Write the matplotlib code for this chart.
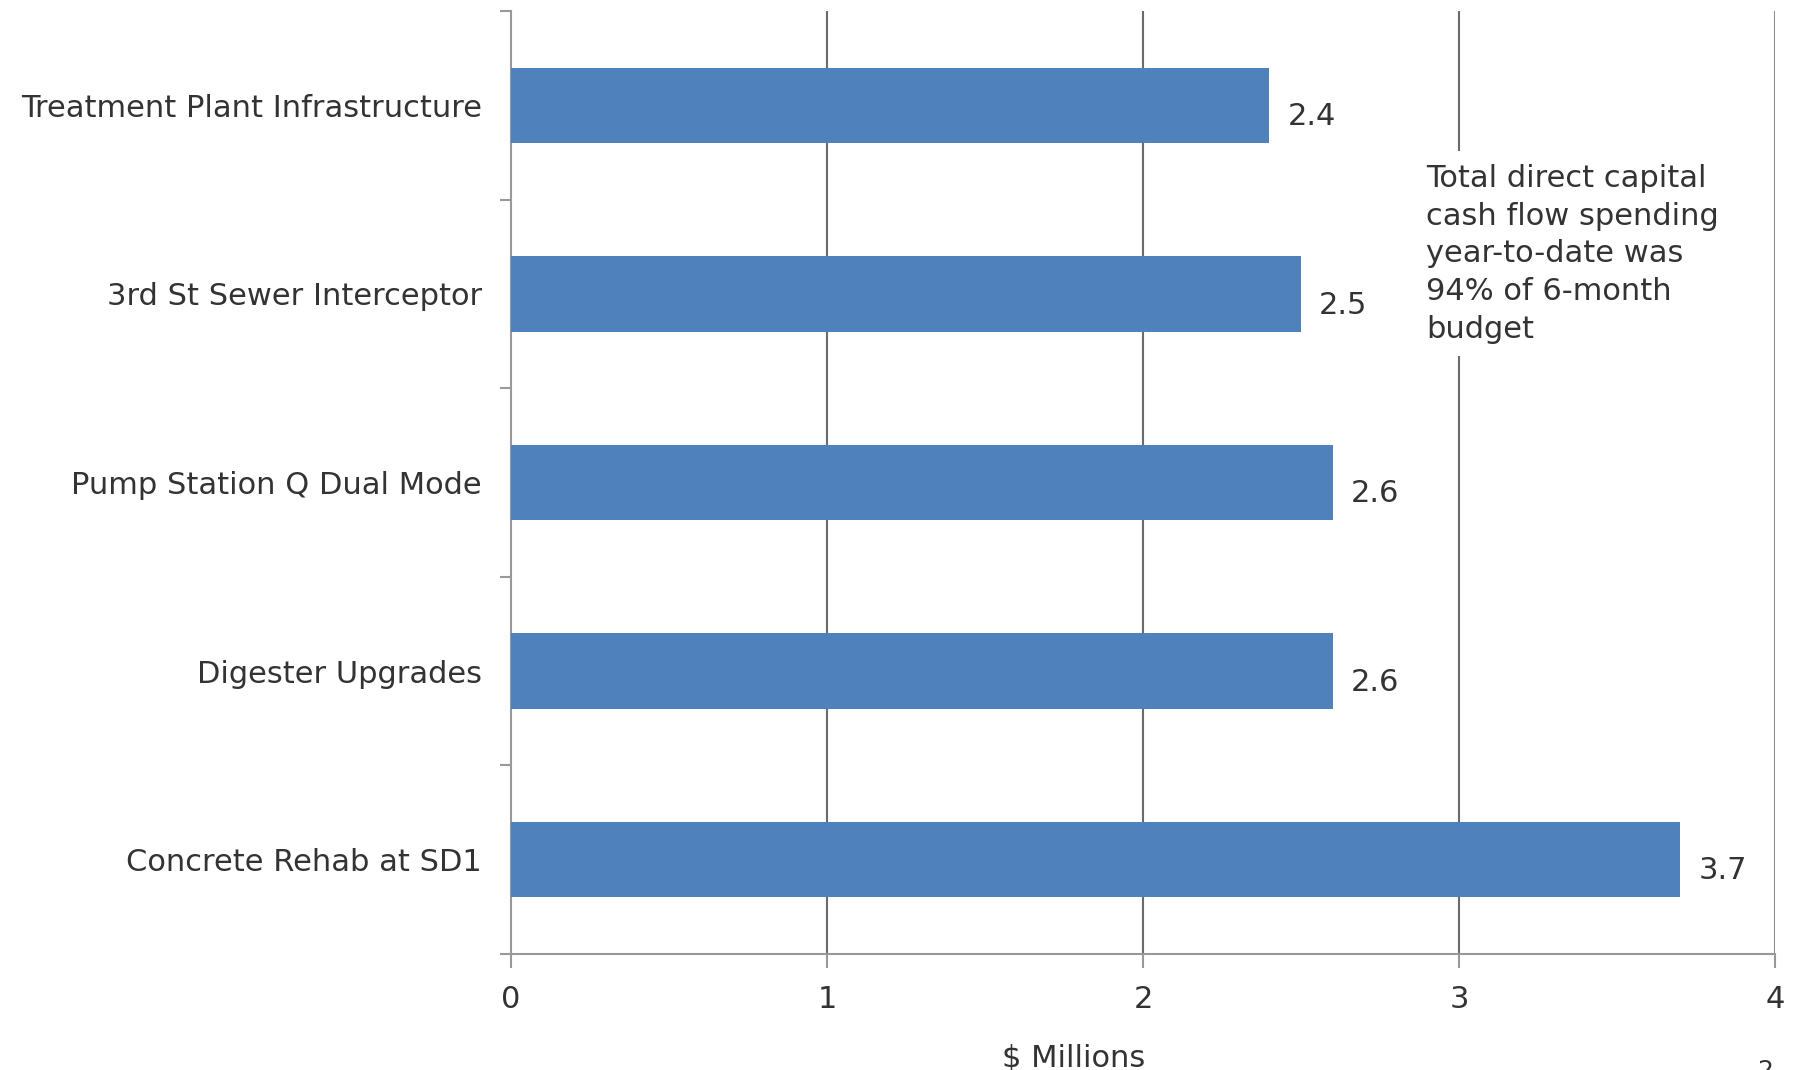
import matplotlib
matplotlib.use('Agg')
import matplotlib.pyplot as plt
import numpy as np

projects = ['Treatment Plant Infrastructure', '3rd St Sewer Interceptor',
            'Pump Station Q Dual Mode', 'Digester Upgrades', 'Concrete Rehab at SD1']
spend = [2.4, 2.5, 2.6, 2.6, 3.7]
value_labels = ['2.4', '2.5', '2.6', '2.6', '3.7']
xticks = [0, 1, 2, 3, 4]
note = 'Total direct capital\ncash flow spending\nyear-to-date was\n94% of 6-month\nbudget'

plt.rcParams['font.family'] = 'DejaVu Sans'
txt = '#333333'
fs = 22

fig = plt.figure(figsize=(17.97, 10.70), dpi=100)
ax = fig.add_axes([0.2844, 0.1084, 0.7034, 0.8813])

y = np.arange(len(projects))
ax.barh(y, spend, height=0.4, color='#4F81BD', zorder=3)
ax.set_ylim(len(projects) - 0.5, -0.5)
ax.set_xlim(0, 4)

# gridlines
for xv in xticks[1:-1]:
  ax.axvline(xv, color='#6b6b6b', lw=1.5, zorder=1)
ax.axvline(4, color='#8c8c8c', lw=1.5, zorder=1)

for yi, v, lab in zip(y, spend, value_labels):
  ax.annotate(lab, (v, yi), xytext=(13, -8), textcoords='offset points',
              ha='left', va='center', fontsize=fs, color=txt)

ax.text(2.895, 0.31, note, ha='left', va='top', fontsize=fs, color=txt,
        linespacing=1.38, zorder=4,
        bbox=dict(facecolor='white', edgecolor='none', pad=9))

for s in ['top', 'right']:
  ax.spines[s].set_visible(False)
for s in ['left', 'bottom']:
  ax.spines[s].set_color('#999999')
  ax.spines[s].set_linewidth(1.5)

ax.set_xticks(xticks)
ax.tick_params(axis='x', length=10, width=1.5, color='#999999', pad=12,
               labelsize=fs, labelcolor=txt)
ax.set_yticks(y)
ax.set_yticklabels(projects)
ax.tick_params(axis='y', which='major', length=0, pad=21, labelsize=fs, labelcolor=txt)
ax.set_yticks(np.arange(-0.5, len(projects), 1), minor=True)
ax.tick_params(axis='y', which='minor', length=8, width=1.5, color='#999999')

ax.set_xlabel('$ Millions', fontsize=fs, color=txt)
ax.xaxis.set_label_coords(0.445, -0.095)

fig.text(0.978, -0.012, '2', fontsize=18, color=txt, ha='left', va='bottom')

fig.savefig('out.png', dpi=100)
